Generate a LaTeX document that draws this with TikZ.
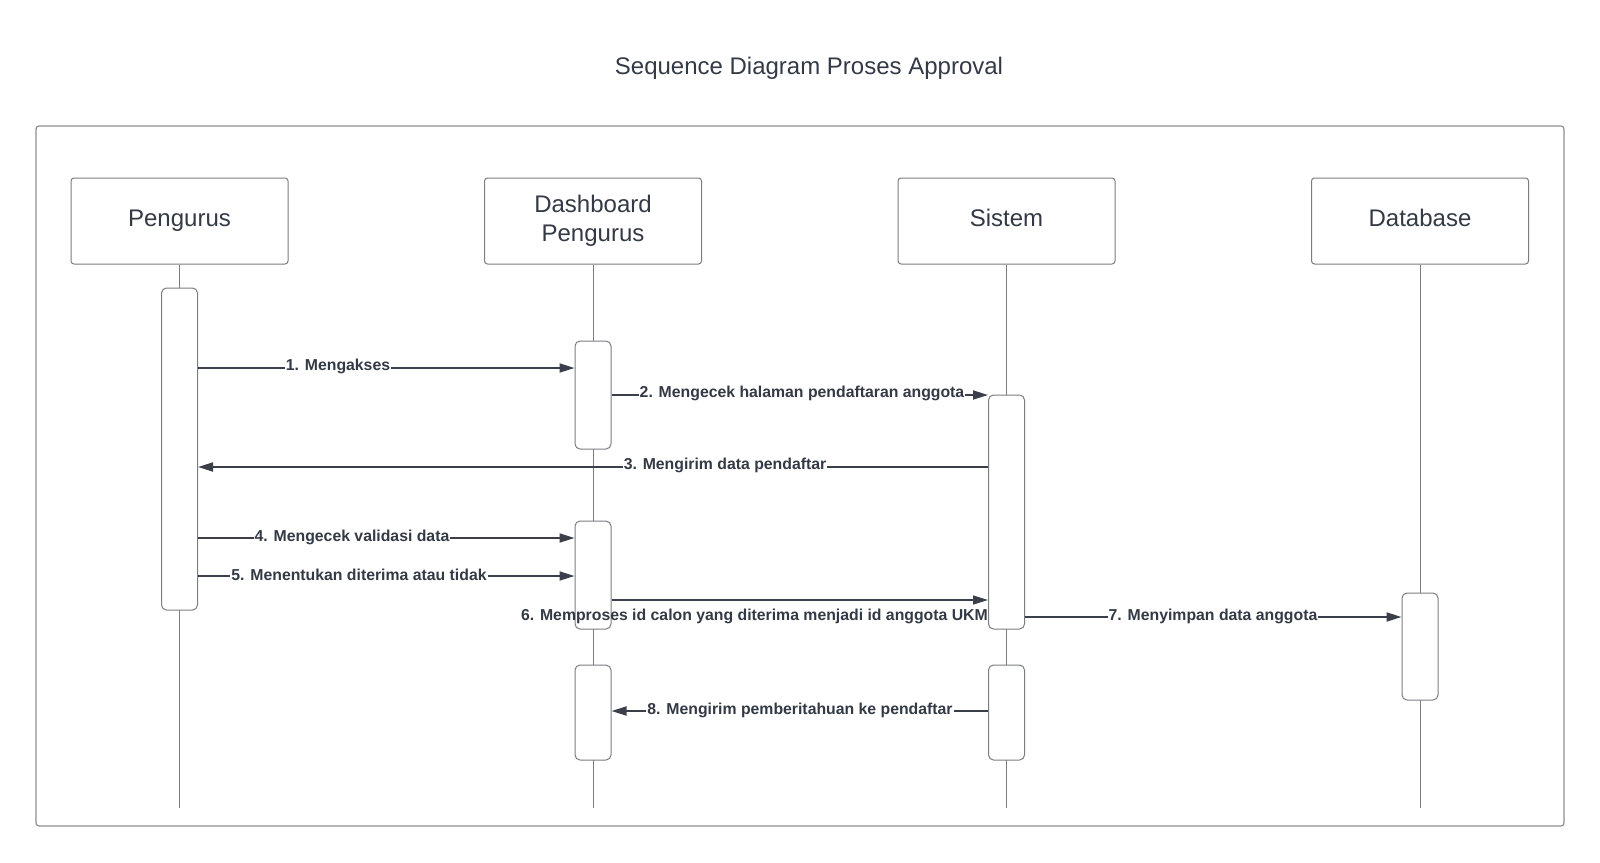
\documentclass[tikz,border=0pt]{standalone}
\usepackage{fontspec}
\setmainfont{Liberation Sans}
\usetikzlibrary{arrows.meta}
\definecolor{txt}{HTML}{333A45}
\definecolor{frm}{HTML}{8A8D92}
\definecolor{bxl}{HTML}{7A7D82}
\definecolor{msg}{HTML}{3A3F4A}
\tikzset{
  x=1pt,y=-1pt,
  head/.style={draw=bxl,line width=1pt,rounded corners=3pt,fill=white,minimum width=217pt,minimum height=86pt,inner sep=0pt,font=\fontsize{24}{29}\selectfont,text=txt,align=center},
  single/.style={text height=16pt,text depth=6pt},
  act/.style={draw=bxl,line width=1pt,rounded corners=5pt,fill=white,minimum width=36pt,inner sep=0pt},
  life/.style={draw=bxl,line width=0.9pt},
  mline/.style={draw=msg,line width=1.8pt,-{Triangle[length=15pt,width=9pt]}},
  mlab/.style={font=\bfseries\fontsize{15.8}{17}\selectfont,text=txt,fill=white,inner sep=1pt},
}
\begin{document}
\begin{tikzpicture}
\useasboundingbox (0,0) rectangle (1600,862);
\node[font=\fontsize{24}{28}\selectfont,text=txt] (title) at (809,68) {Sequence Diagram Proses Approval};
\draw[frm,line width=1.2pt,rounded corners=3pt] (36,126) rectangle (1564,826);
% headers
\node[head,single] (hP) at (179.5,221) {Pengurus};
\node[head] (hD) at (593,221) {Dashboard\\Pengurus};
\node[head,single] (hS) at (1006.5,221) {Sistem};
\node[head,single] (hB) at (1420,221) {Database};
% lifeline ends
\coordinate (eP) at (179.5,808);
\coordinate (eD) at (593,808);
\coordinate (eS) at (1006.5,808);
\coordinate (eB) at (1420,808);
\draw[life] (hP.south) -- (eP);
\draw[life] (hD.south) -- (eD);
\draw[life] (hS.south) -- (eS);
\draw[life] (hB.south) -- (eB);
% activations
\node[act,minimum height=322pt] (aP) at (179.5,449) {};
\node[act,minimum height=108pt] (aD1) at (593,395) {};
\node[act,minimum height=108pt] (aD2) at (593,575) {};
\node[act,minimum height=95pt] (aD3) at (593,712.5) {};
\node[act,minimum height=234pt] (aS1) at (1006.5,512) {};
\node[act,minimum height=95pt] (aS2) at (1006.5,712.5) {};
\node[act,minimum height=107pt] (aB) at (1420,646.5) {};
% message rows
\coordinate (m1) at (0,368);
\coordinate (m2) at (0,395);
\coordinate (m3) at (0,467);
\coordinate (m4) at (0,538);
\coordinate (m5) at (0,576);
\coordinate (m6) at (0,600);
\coordinate (m7) at (0,617);
\coordinate (m8) at (0,711);
\draw[mline] (aP.east |- m1) -- (aD1.west |- m1);
\node[mlab] (l1) at (338,366) {1. Mengakses};
\draw[mline] (aD1.east |- m2) -- (aS1.west |- m2);
\node[mlab] (l2) at (802,393) {2. Mengecek halaman pendaftaran anggota};
\draw[mline] (aS1.west |- m3) -- (aP.east |- m3);
\node[mlab] (l3) at (725,465) {3. Mengirim data pendaftar};
\draw[mline] (aP.east |- m4) -- (aD2.west |- m4);
\node[mlab] (l4) at (352,537) {4. Mengecek validasi data};
\draw[mline] (aP.east |- m5) -- (aD2.west |- m5);
\node[mlab] (l5) at (359,575) {5. Menentukan diterima atau tidak};
\draw[mline,line width=1.3pt] (aD2.east |- m6) -- (aS1.west |- m6);
\node[mlab,fill=none,anchor=east,inner sep=0pt] (l6) at (aS1.west |- 0,616) {6. Memproses id calon yang diterima menjadi id anggota UKM};
\draw[mline] (aS1.east |- m7) -- (aB.west |- m7);
\node[mlab] (l7) at (1213,616) {7. Menyimpan data anggota};
\draw[mline] (aS2.west |- m8) -- (aD3.east |- m8);
\node[mlab] (l8) at (800,710) {8. Mengirim pemberitahuan ke pendaftar};
\end{tikzpicture}
\end{document}
